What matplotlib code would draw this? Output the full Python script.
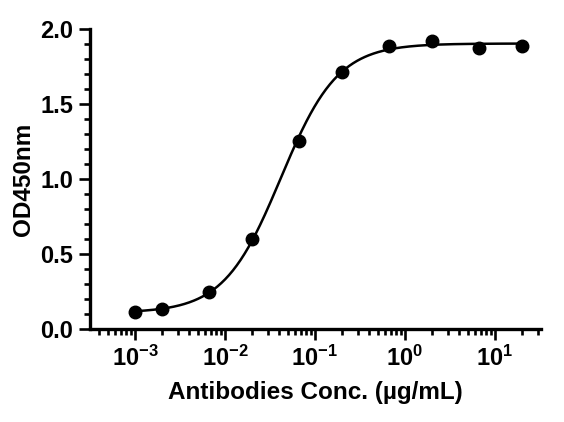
import numpy as np
import matplotlib
matplotlib.use("Agg")
import matplotlib.pyplot as plt
from matplotlib.ticker import LogLocator, FixedLocator, FixedFormatter, MultipleLocator, NullFormatter

plt.rcParams['font.family'] = ['Liberation Sans', 'DejaVu Sans']
plt.rcParams['font.weight'] = 'bold'
plt.rcParams['mathtext.fontset'] = 'custom'
plt.rcParams['mathtext.rm'] = 'Liberation Sans:bold'
plt.rcParams['mathtext.it'] = 'Liberation Sans:bold'
plt.rcParams['mathtext.bf'] = 'Liberation Sans:bold'
plt.rcParams['mathtext.default'] = 'rm'

# Data
conc = [0.001, 0.002, 0.00667, 0.02, 0.0667, 0.2, 0.667, 2.0, 6.67, 20.0]
od450 = [0.116, 0.131, 0.245, 0.599, 1.255, 1.716, 1.891, 1.920, 1.874, 1.889]

# 4-parameter logistic fit parameters (estimated)
fit_bottom = 0.108
fit_top = 1.905
fit_ec50 = 0.0418
fit_hill = 1.37

xtick_vals = [1e-3, 1e-2, 1e-1, 1e0, 1e1]
xtick_labels = [r'$10^{-3}$', r'$10^{-2}$', r'$10^{-1}$', r'$10^{0}$', r'$10^{1}$']
ytick_vals = [0.0, 0.5, 1.0, 1.5, 2.0]
ytick_labels = ['0.0', '0.5', '1.0', '1.5', '2.0']

fig = plt.figure(figsize=(5.64, 4.22), dpi=100)
ax = fig.add_axes([90/564, 1-329/422, (541-90)/564, (329-29.3)/422])

xc = np.logspace(np.log10(conc[0]), np.log10(conc[-1]), 400)
yc = fit_bottom + (fit_top - fit_bottom) / (1 + (fit_ec50 / xc) ** fit_hill)
ax.plot(xc, yc, color='black', lw=1.8, zorder=2)
ax.plot(conc, od450, 'o', color='black', ms=9.0, zorder=3, clip_on=False)

ax.set_xscale('log')
ax.set_xlim(10**-3.5, 10**1.515)
ax.set_ylim(0, 2.0)

ax.xaxis.set_major_locator(FixedLocator(xtick_vals))
ax.xaxis.set_major_formatter(FixedFormatter(xtick_labels))
ax.xaxis.set_minor_locator(LogLocator(base=10, subs=np.arange(2, 10), numticks=20))
ax.xaxis.set_minor_formatter(NullFormatter())

ax.yaxis.set_major_locator(FixedLocator(ytick_vals))
ax.yaxis.set_major_formatter(FixedFormatter(ytick_labels))
ax.yaxis.set_minor_locator(MultipleLocator(0.1))

for s in ['top', 'right']:
    ax.spines[s].set_visible(False)
for s in ['left', 'bottom']:
    ax.spines[s].set_linewidth(2.4)

ax.tick_params(which='major', length=8, width=1.9, labelsize=17, direction='out')
ax.tick_params(which='minor', length=4, width=1.9, direction='out')
ax.tick_params(axis='x', which='major', pad=4)
ax.tick_params(axis='y', which='major', pad=4)
ax.tick_params(axis='y', which='minor', length=4.5)

ax.set_xlabel('Antibodies Conc. (µg/mL)', fontsize=17.5, fontweight='bold', labelpad=7)
ax.set_ylabel('OD450nm', fontsize=17.5, fontweight='bold', labelpad=4)

fig.savefig('out.png', dpi=100)
